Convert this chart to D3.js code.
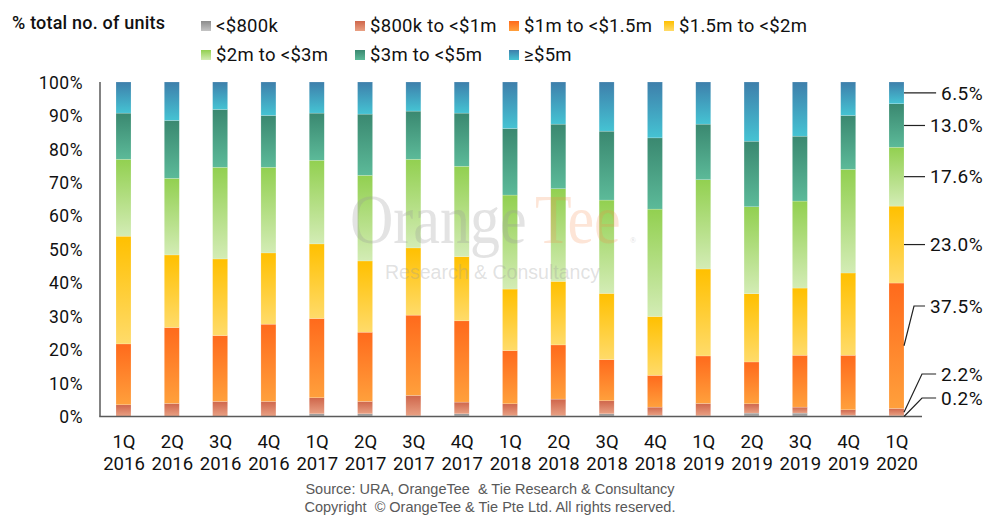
<!DOCTYPE html>
<html>
<head>
<meta charset="utf-8">
<script src="https://cdn.jsdelivr.net/npm/d3@7/dist/d3.min.js"></script>
<style>
  html, body { margin: 0; padding: 0; background: #fff; }
  svg { display: block; font-family: Roboto, "Noto Sans", sans-serif; }
</style>
</head>
<body>
<svg id="chart" width="987" height="515"></svg>
<script>
// ---------- DATA ----------
const categories = ["1Q 2016","2Q 2016","3Q 2016","4Q 2016","1Q 2017","2Q 2017","3Q 2017","4Q 2017",
  "1Q 2018","2Q 2018","3Q 2018","4Q 2018","1Q 2019","2Q 2019","3Q 2019","4Q 2019","1Q 2020"];

const seriesNames = ["<$800k", "$800k to <$1m", "$1m to <$1.5m", "$1.5m to <$2m", "$2m to <$3m", "$3m to <$5m", "\u2265$5m"];

const under800k   = [0.1, 0.1, 0.1, 0.1, 0.8, 0.8, 0.2, 0.8, 0.2, 0.2, 0.8, 0.3, 0.2, 1.0, 1.0, 0.3, 0.2];
const k800to1m    = [3.4, 3.8, 4.4, 4.4, 4.8, 3.7, 6.1, 3.5, 3.6, 5.0, 3.9, 2.5, 3.7, 2.8, 1.8, 1.7, 2.2];
const m1to1_5     = [18.2, 22.7, 19.7, 23.1, 23.7, 20.7, 24.0, 24.3, 15.9, 16.2, 12.3, 9.5, 14.2, 12.5, 15.5, 16.3, 37.5];
const m1_5to2     = [32.2, 21.7, 22.9, 21.3, 22.3, 21.3, 20.1, 19.2, 18.4, 19.0, 19.8, 17.6, 26.0, 20.4, 20.1, 24.6, 23.0];
const m2to3       = [23.0, 22.9, 27.4, 25.6, 25.0, 25.6, 26.5, 27.0, 28.1, 27.7, 27.9, 32.1, 26.7, 26.0, 26.0, 31.0, 17.6];
const m3to5       = [13.8, 17.3, 17.3, 15.5, 14.1, 18.3, 14.4, 15.9, 19.9, 19.3, 20.6, 21.3, 16.6, 19.6, 19.4, 16.1, 13.0];
const m5plus      = [9.3, 11.5, 8.2, 10.0, 9.3, 9.6, 8.7, 9.3, 13.9, 12.6, 14.7, 16.7, 12.6, 17.7, 16.2, 10.0, 6.5];

const seriesValues = [under800k, k800to1m, m1to1_5, m1_5to2, m2to3, m3to5, m5plus];
const yTicks = [0, 10, 20, 30, 40, 50, 60, 70, 80, 90, 100];
const lastLabels = ["0.2%", "2.2%", "37.5%", "23.0%", "17.6%", "13.0%", "6.5%"];

// gradient colours (top, bottom) per series
const gradTop    = ["#8c8c8c", "#cf664b", "#ff6a1c", "#ffc000", "#92d050", "#3a8870", "#3e7fab"];
const gradBottom = ["#c4c4c4", "#e9a083", "#ffa03c", "#ffdb6a", "#d3ecb5", "#5cba99", "#45c3d3"];

// ---------- SETUP ----------
const svg = d3.select("#chart");
const defs = svg.append("defs");
seriesNames.forEach((s, i) => {
  const g = defs.append("linearGradient").attr("id", "g" + i)
    .attr("x1", 0).attr("y1", 0).attr("x2", 0).attr("y2", 1);
  g.append("stop").attr("offset", "0%").attr("stop-color", gradTop[i]);
  g.append("stop").attr("offset", "100%").attr("stop-color", gradBottom[i]);
});

const x = d3.scalePoint().domain(categories).range([123.5, 896.5]);
const y = d3.scaleLinear().domain([0, 100]).range([416.5, 82]);
const barW = 15;

const rows = categories.map((c, j) => {
  const r = { cat: c };
  seriesNames.forEach((s, i) => r[s] = seriesValues[i][j]);
  return r;
});
const stack = d3.stack().keys(seriesNames)(rows);

// ---------- BARS ----------
const layers = svg.append("g").selectAll("g").data(stack).join("g")
  .attr("fill", (d, i) => `url(#g${i})`);
layers.selectAll("rect").data(d => d).join("rect")
  .attr("x", d => x(d.data.cat) - barW / 2)
  .attr("width", barW)
  .attr("y", d => y(d[1]))
  .attr("height", d => Math.max(0, y(d[0]) - y(d[1])))
  .attr("stroke", "#ffffff").attr("stroke-opacity", 0.35).attr("stroke-width", 0.5);

// ---------- WATERMARK (semi-transparent, over the bars) ----------
const wm = svg.append("g").attr("pointer-events", "none")
  .attr("font-family", "'Liberation Serif', 'DejaVu Serif', serif");
wm.append("text").attr("transform", "translate(350,243) scale(1,1.16)").attr("font-size", 60)
  .attr("fill", "#9a9a9a").attr("fill-opacity", 0.28).text("Orange");
wm.append("text").attr("transform", "translate(535,243) scale(1,1.16)").attr("font-size", 60)
  .attr("fill", "#f58a4a").attr("fill-opacity", 0.22).text("Tee");
wm.append("text").attr("x", 630).attr("y", 243).attr("font-size", 8)
  .attr("fill", "#bbbbbb").attr("fill-opacity", 0.5).text("\u00AE");
wm.append("text").attr("x", 385).attr("y", 279)
  .attr("font-family", "'Liberation Sans', Arial, sans-serif").attr("font-size", 19.5)
  .attr("fill", "#9a9a9a").attr("fill-opacity", 0.3)
  .attr("textLength", 215).attr("lengthAdjust", "spacingAndGlyphs")
  .text("Research & Consultancy");

// ---------- AXES ----------
const yAxis = d3.axisLeft(y).tickValues(yTicks).tickSize(0).tickPadding(0)
  .tickFormat(d => d + "%");
const yg = svg.append("g").attr("transform", "translate(83,0)").call(yAxis);
yg.select(".domain").remove();
yg.selectAll("text").attr("font-size", 17.5).attr("letter-spacing", 0.5).attr("fill", "#111")
  .attr("font-family", "Roboto, sans-serif").attr("dy", "0.35em");

svg.append("line").attr("x1", 100).attr("x2", 100).attr("y1", y(100)).attr("y2", y(0))
  .attr("stroke", "#5a5a5a").attr("stroke-width", 1.5);
svg.append("line").attr("x1", 99.25).attr("x2", 922).attr("y1", y(0)).attr("y2", y(0))
  .attr("stroke", "#5a5a5a").attr("stroke-width", 1.5);

const xAxis = d3.axisBottom(x).tickSize(0).tickFormat("");
const xg = svg.append("g").attr("transform", `translate(0,${y(0)})`).call(xAxis);
xg.select(".domain").remove();
xg.selectAll(".tick").each(function(d) {
  const parts = d.split(" ");
  const t = d3.select(this).append("text").attr("fill", "#111")
    .attr("font-size", 18.5).attr("text-anchor", "middle").attr("font-family", "Roboto, sans-serif");
  t.append("tspan").attr("x", 0).attr("y", 31).text(parts[0]);
  t.append("tspan").attr("x", 0).attr("y", 53).text(parts[1]);
});

// ---------- LEGEND ----------
svg.append("text").attr("x", 12).attr("y", 29).attr("font-size", 18).attr("font-weight", 500)
  .attr("letter-spacing", 0.2).attr("fill", "#111").text("% total no. of units");

const legendPos = [[201, 21], [355, 21], [509, 21], [664, 21], [201, 50], [355, 50], [509, 50]];
const lg = svg.append("g").selectAll("g").data(seriesNames).join("g")
  .attr("transform", (d, i) => `translate(${legendPos[i][0]},${legendPos[i][1]})`);
lg.append("rect").attr("width", 10).attr("height", 10).attr("fill", (d, i) => `url(#g${i})`);
lg.append("text").attr("x", 15).attr("y", 11).attr("font-size", 18.5).attr("letter-spacing", 0.3)
  .attr("fill", "#111").text(d => d);

// ---------- LAST BAR ANNOTATIONS ----------
const lastIdx = categories.length - 1;
const lastCat = categories[lastIdx];
const bx = x(lastCat) + barW / 2;
const ann = svg.append("g");
const labelY = [398, 374, 306, null, null, null, null];
stack.forEach((layer, i) => {
  const d = layer[lastIdx];
  const mid = y((d[0] + d[1]) / 2);
  const ly = labelY[i] === null ? mid : labelY[i];
  const t = ann.append("text").attr("x", 983).attr("y", ly).attr("dy", "0.35em")
    .attr("text-anchor", "end").attr("font-size", 19).attr("letter-spacing", 0.4).attr("fill", "#111")
    .attr("font-family", "Roboto, sans-serif").text(lastLabels[i]);
  const tw = t.node().getComputedTextLength();
  const xEnd = 983 - tw - 5;
  let pts;
  if (labelY[i] === null) {
    pts = [[bx, mid], [xEnd, mid]];
  } else {
    const startY = i === 0 ? y(0) : mid;
    const elbowX = i === 2 ? bx + 10 : bx + 18;
    pts = [[bx, startY], [elbowX, ly], [xEnd, ly]];
  }
  ann.append("path").attr("d", d3.line()(pts)).attr("fill", "none")
    .attr("stroke", "#222").attr("stroke-width", 1.2);
});

// ---------- SOURCE ----------
const src = svg.append("g").attr("font-family", "'Liberation Sans', Arial, sans-serif")
  .attr("font-size", 14.5).attr("fill", "#595959").attr("text-anchor", "middle");
src.append("text").attr("x", 490).attr("y", 494).text("Source: URA, OrangeTee\u00A0 & Tie Research & Consultancy");
src.append("text").attr("x", 490).attr("y", 512).text("Copyright\u00A0 \u00A9 OrangeTee & Tie Pte Ltd. All rights reserved.");
</script>
</body>
</html>
